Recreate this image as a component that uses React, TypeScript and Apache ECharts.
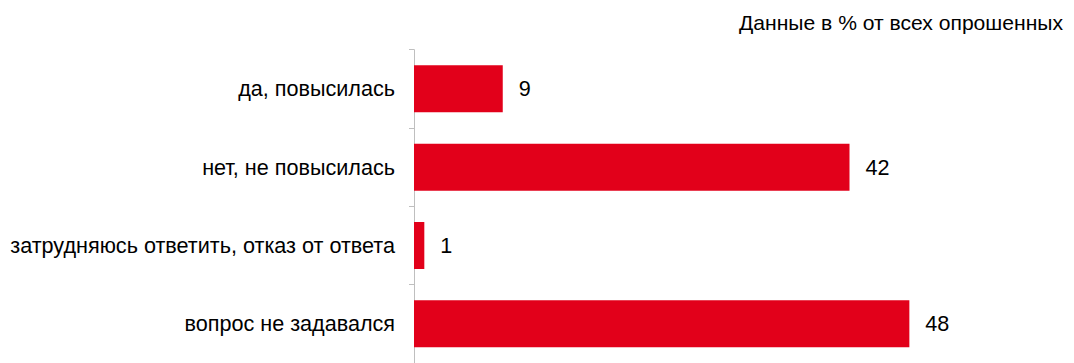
import React, { useEffect, useRef } from "react";
import * as echarts from "echarts";

const categories = [
  "да, повысилась",
  "нет, не повысилась",
  "затрудняюсь ответить, отказ от ответа",
  "вопрос не задавался",
];
const values = [8.6, 42.2, 1.0, 48.0];
const note = "Данные в % от всех опрошенных";

const FONT = "'Liberation Sans', Arial, sans-serif";
const FS = 21.6;

export default function App() {
  const ref = useRef<HTMLDivElement>(null);
  useEffect(() => {
    if (!ref.current) return;
    const chart = echarts.init(ref.current, null, { renderer: "svg" });
    chart.setOption({
      animation: false,
      backgroundColor: "#ffffff",
      title: {
        text: note,
        right: 6,
        top: 7,
        textStyle: { fontFamily: FONT, fontSize: 21.1, fontWeight: "normal", color: "#000" },
      },
      grid: { left: 414, top: 49.7, width: 516, height: 319 },
      xAxis: {
        type: "value",
        min: 0,
        max: 50,
        show: false,
      },
      yAxis: {
        type: "category",
        data: categories,
        inverse: true,
        axisLine: { show: true, lineStyle: { color: "#bfbfbf", width: 1 } },
        axisTick: { show: true, length: 5, lineStyle: { color: "#bfbfbf" } },
        axisLabel: {
          fontFamily: FONT,
          fontSize: FS,
          color: "#000",
          margin: 19,
        },
      },
      series: [
        {
          type: "bar",
          data: values,
          barWidth: 47,
          itemStyle: { color: "#e2001a" },
          label: {
            show: true,
            position: "right",
            distance: 16,
            fontFamily: FONT,
            fontSize: FS,
            color: "#000",
            formatter: (p: any) => String(Math.round(p.value)),
          },
        },
      ],
    });
    return () => chart.dispose();
  }, []);
  return (
    <div
      ref={ref}
      style={{ position: "absolute", left: 0, top: 0, width: 1074, height: 363 }}
    />
  );
}
